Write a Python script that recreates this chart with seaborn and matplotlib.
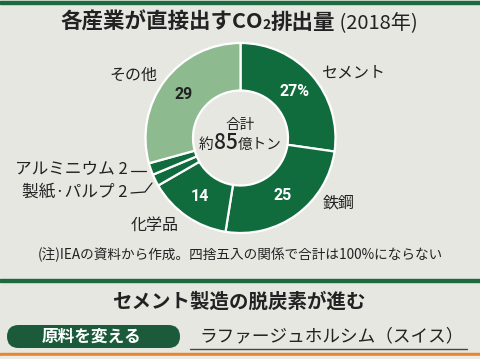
import numpy as np
import matplotlib
matplotlib.use("Agg")
import matplotlib.pyplot as plt
import seaborn as sns
from matplotlib.patches import FancyBboxPatch, Rectangle
from matplotlib.lines import Line2D

# data
sectors = ["セメント", "鉄鋼", "化学品", "製紙・パルプ", "アルミニウム", "その他"]
shares = [27, 25, 14, 2, 2, 29]
value_labels = ["27%", "25", "14", "", "", "29"]
total_label = "85"

dark_green = "#106c3d"
light_green = "#8dba8e"
bg = "#e7e7e1"
ink = "#222222"

sns.set_theme(style="white")
plt.rcParams["font.family"] = ["Noto Sans CJK JP", "DejaVu Sans"]

W, H = 480, 359
fig = plt.figure(figsize=(W / 100, H / 100), dpi=100, facecolor=bg)
r = fig.canvas.get_renderer()


def px(x, y):
    # pixel coords (y from top) -> figure fraction
    return x / W, 1 - y / H


def ftext(x, y, s, **kw):
    fx, fy = px(x, y)
    return fig.text(fx, fy, s, **kw)


def chain(x, y, pieces):
    # put text pieces one after another on one baseline
    out = []
    cur = x
    for s, kw in pieces:
        t = ftext(cur, y, s, va="baseline", color=ink, **kw)
        fig.canvas.draw()
        cur = t.get_window_extent(r).x1
        out.append(t)
    return out


# frame lines
fig.patches.append(Rectangle(px(0, 4), 1, 3 / H, transform=fig.transFigure, color="#1b6a40"))
fig.patches.append(Rectangle(px(0, 282), 1, 3 / H, transform=fig.transFigure, color="#1b6a40"))
fig.patches.append(Rectangle(px(0, 356), 1, 3 / H, transform=fig.transFigure, color="#e8872a"))
fig.patches.append(Rectangle(px(0, 359), 1, 3 / H, transform=fig.transFigure, color="#ecebe6"))

# title
chain(60, 29, [("各産業が直接出すCO", dict(fontsize=15.5, fontweight="bold")),
               ("2", dict(fontsize=10, fontweight="bold")),
               ("排出量", dict(fontsize=15.5, fontweight="bold")),
               (" (2018年)", dict(fontsize=14.5))])

# donut
cx, cy, rad = 240.5, 138, 95
ax = fig.add_axes([(cx - rad) / W, 1 - (cy + rad) / H, 2 * rad / W, 2 * rad / H])
ax.set_facecolor("none")
colors = [dark_green] * 5 + [light_green]
ax.pie(shares, colors=colors, startangle=90, counterclock=False, radius=1,
       wedgeprops=dict(width=0.5, edgecolor="white", linewidth=1.6))
ax.set_xlim(-1, 1)
ax.set_ylim(-1, 1)
ax.axis("off")

# values inside slices
ang_edges = 90 - np.cumsum([0] + shares) / sum(shares) * 360
mids = (ang_edges[:-1] + ang_edges[1:]) / 2
for lab, a, name in zip(value_labels, mids, sectors):
    if not lab:
        continue
    col = ink if name == "その他" else "white"
    ax.text(0.75 * np.cos(np.radians(a)), 0.75 * np.sin(np.radians(a)), lab,
            ha="center", va="center", fontsize=11.5, fontweight="bold", color=col,
            family=["Roboto", "DejaVu Sans"])

# centre text
ftext(240, 125, "合計", fontsize=10.5, color=ink, ha="center", va="center")
chain(199, 149, [("約", dict(fontsize=10.5)),
                 (total_label, dict(fontsize=15, fontweight="medium")),
                 ("億トン", dict(fontsize=10.5))])

# sector labels
ftext(353, 73, "セメント", fontsize=11.5, color=ink, ha="center", va="center")
ftext(339, 203, "鉄鋼", fontsize=11.5, color=ink, ha="center", va="center")
ftext(155, 225, "化学品", fontsize=11.5, color=ink, ha="center", va="center")
ftext(133, 75, "その他", fontsize=11.5, color=ink, ha="center", va="center")
ftext(128, 169, "アルミニウム 2", fontsize=12, color=ink, ha="right", va="center")
ftext(128, 192, "製紙·パルプ 2", fontsize=12, color=ink, ha="right", va="center")
for xs, ys in [([131, 146], [171, 171]), ([131, 145, 152], [193, 192, 183])]:
    fx = [x / W for x in xs]
    fy = [1 - y / H for y in ys]
    fig.lines.append(Line2D(fx, fy, transform=fig.transFigure, color=ink, lw=0.9))

# note
ftext(240, 255, "(注)IEAの資料から作成。四捨五入の関係で合計は100%にならない",
      fontsize=9.8, color=ink, ha="center", va="center")

# second section
ftext(239, 302, "セメント製造の脱炭素が進む", fontsize=14, fontweight="bold",
      color=ink, ha="center", va="center")
box = FancyBboxPatch((0.07, (H - 348) / 100), 1.73, 0.23,
                     boxstyle="round,pad=0,rounding_size=0.115",
                     transform=fig.dpi_scale_trans, facecolor="#1b5a3a", edgecolor="none")
fig.patches.append(box)
ftext(92, 337, "原料を変える", fontsize=12, fontweight="bold", color="white",
      ha="center", va="center")
ftext(199, 336, "ラファージュホルシム（スイス）", fontsize=12.7, color=ink, va="center")
fig.lines.append(Line2D([190 / W, 467 / W], [1 - 349 / H] * 2, transform=fig.transFigure,
                        color="#444444", lw=1))

fig.savefig("out.png", dpi=100, facecolor=bg)
